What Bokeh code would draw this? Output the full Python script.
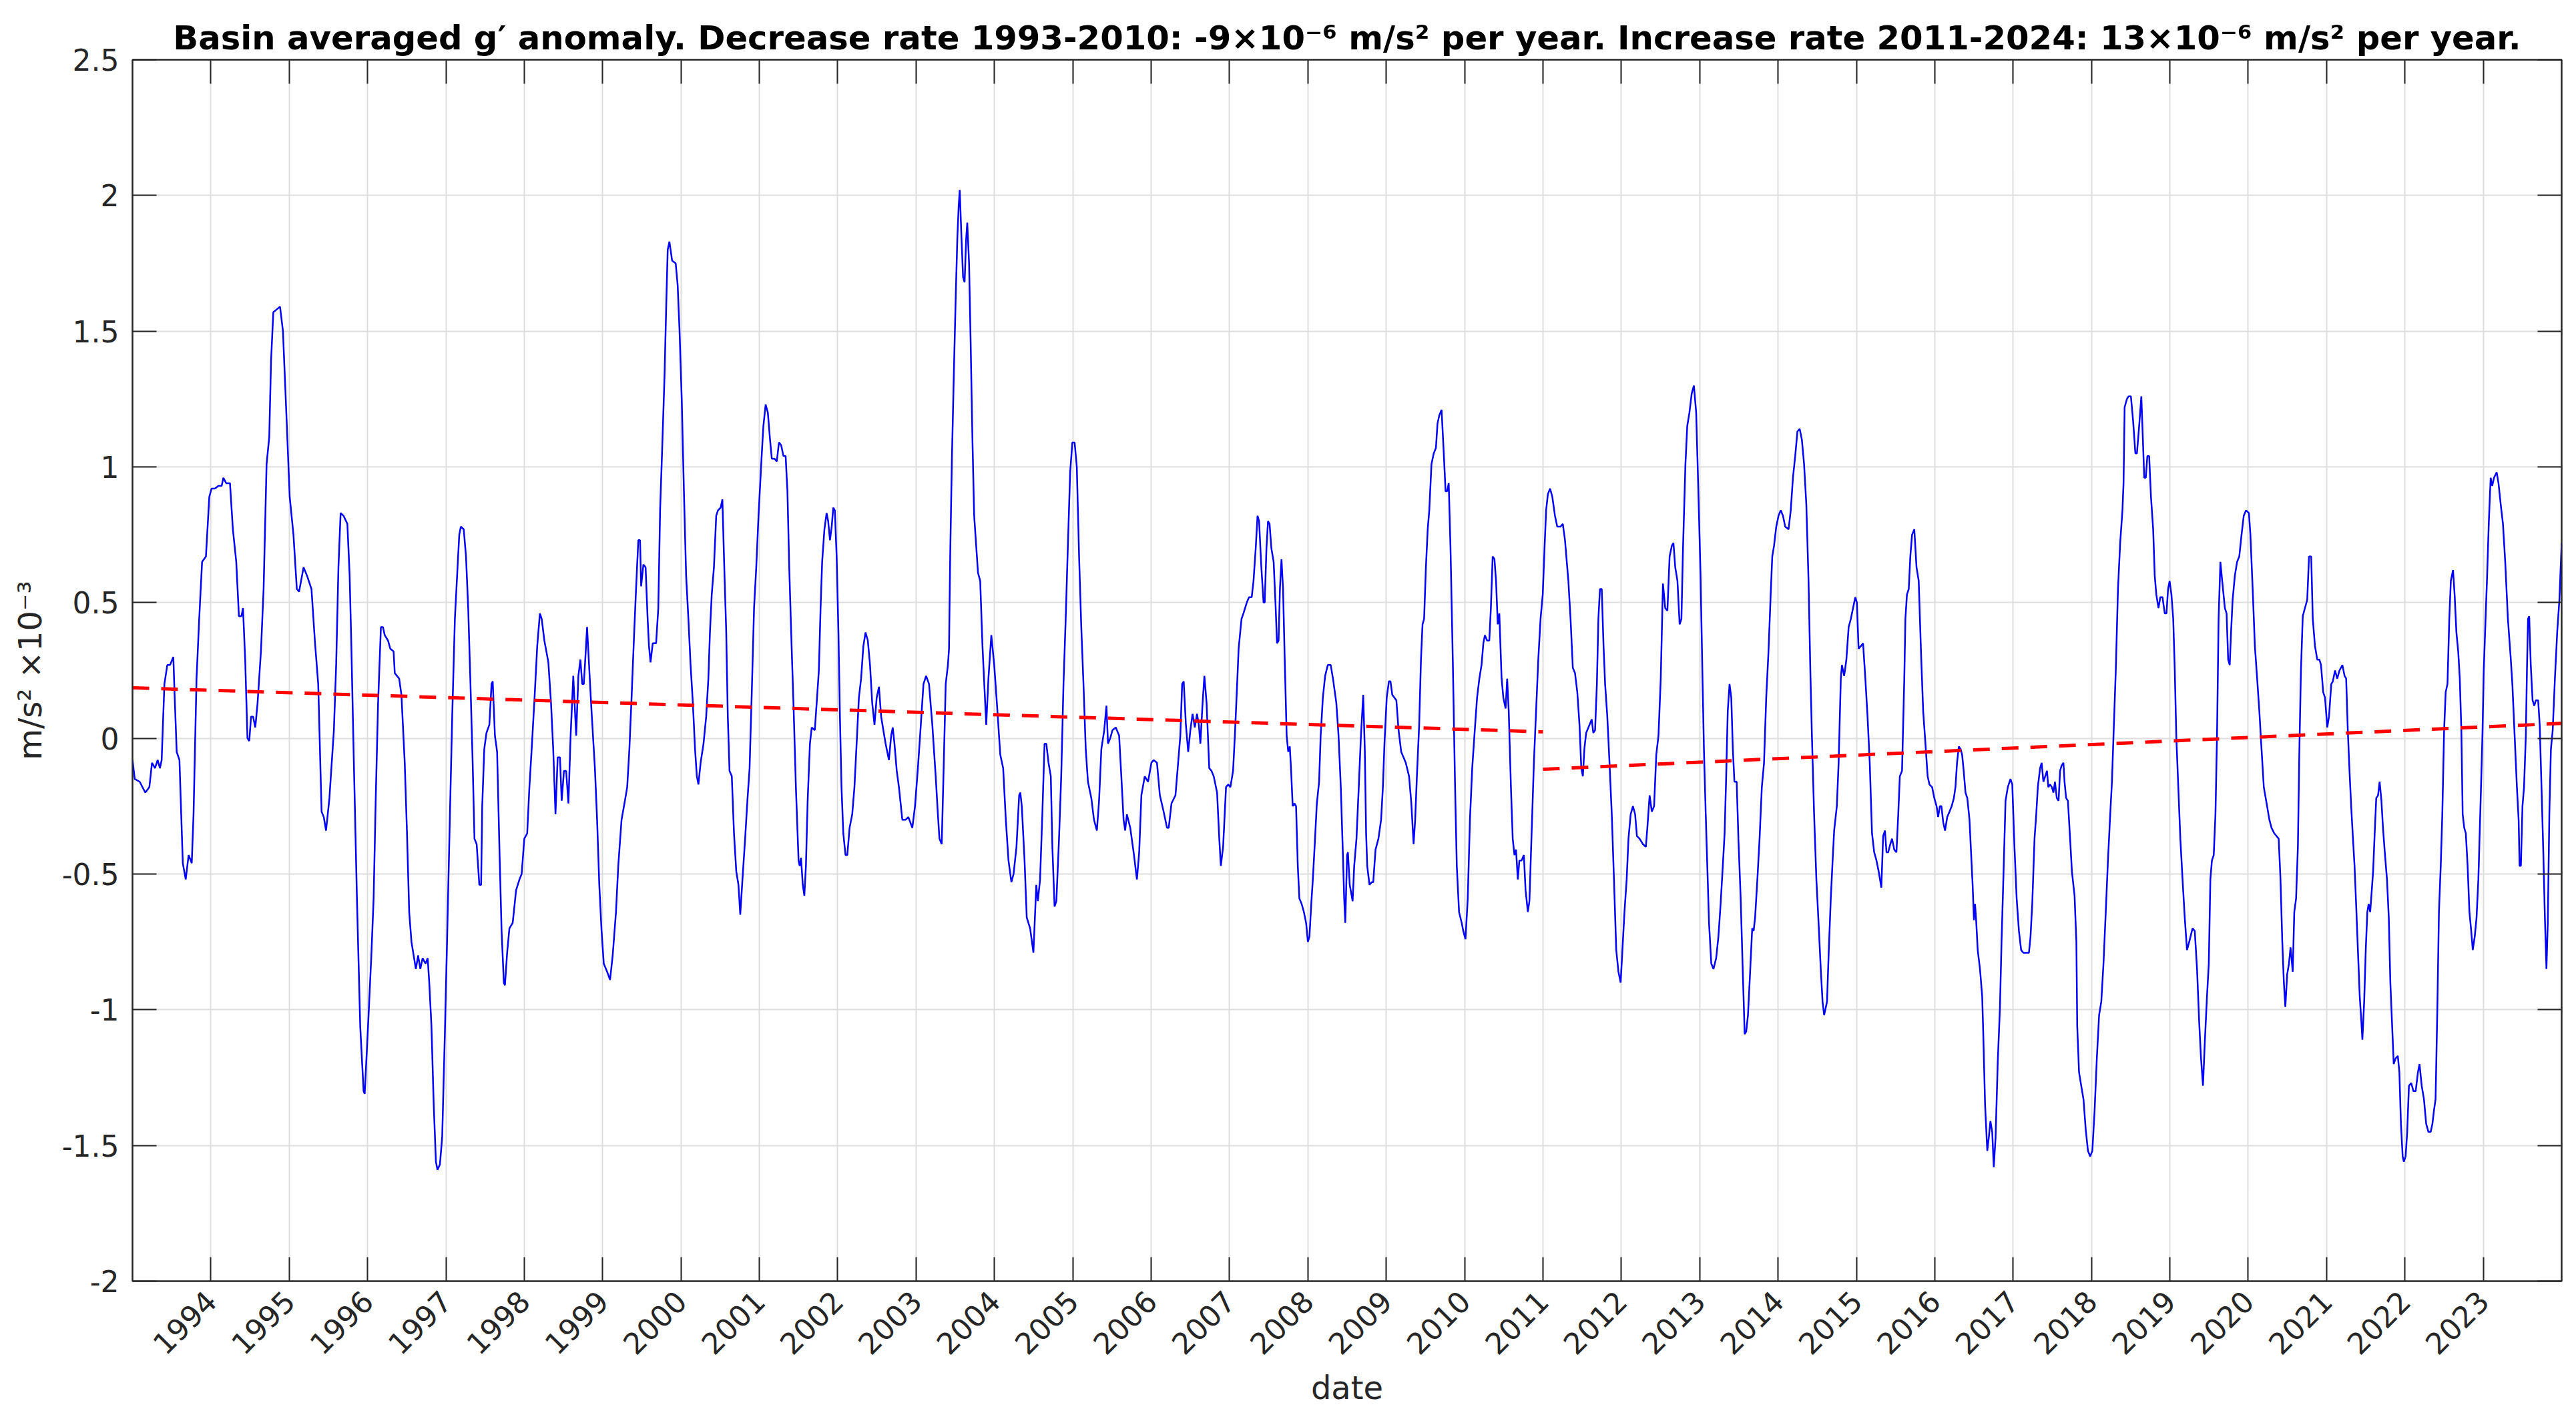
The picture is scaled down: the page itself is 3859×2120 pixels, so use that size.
import math
from bokeh.plotting import figure
from bokeh.models import LinearAxis, FixedTicker, Range1d, CustomJSTickFormatter
from bokeh.embed import file_html
from bokeh.resources import INLINE

# ---------------- data (decimal year, basin averaged g' anomaly in 1e-3 m/s^2) ----------------
t_1993 = [1993.000, 1993.029, 1993.092, 1993.163, 1993.215, 1993.249, 1993.287, 1993.321, 1993.350, 1993.372,
          1993.407, 1993.444, 1993.479, 1993.521, 1993.536, 1993.564, 1993.599, 1993.642, 1993.679, 1993.716,
          1993.756, 1993.779, 1993.817, 1993.851, 1993.888, 1993.937, 1993.980, 1994.009, 1994.052, 1994.095,
          1994.138, 1994.160, 1994.195, 1994.244, 1994.281, 1994.324, 1994.358, 1994.390, 1994.410, 1994.438,
          1994.467, 1994.490, 1994.513, 1994.539, 1994.567, 1994.596, 1994.639, 1994.673, 1994.711, 1994.745,
          1994.768, 1994.797, 1994.840, 1994.883, 1994.920, 1994.960, 1995.006, 1995.054, 1995.097, 1995.126,
          1995.183, 1995.226, 1995.284, 1995.327, 1995.370, 1995.413, 1995.441, 1995.470, 1995.513, 1995.570,
          1995.599, 1995.628, 1995.656, 1995.693, 1995.742, 1995.771]
g_1993 = [-0.08, -0.15, -0.16, -0.20, -0.18, -0.09, -0.11, -0.08, -0.11, -0.08,
          0.20, 0.27, 0.27, 0.30, 0.17, -0.05, -0.08, -0.46, -0.52, -0.43,
          -0.46, -0.28, 0.22, 0.44, 0.65, 0.67, 0.89, 0.92, 0.92, 0.93,
          0.93, 0.96, 0.94, 0.94, 0.77, 0.65, 0.45, 0.45, 0.48, 0.29,
          0.00, -0.01, 0.08, 0.08, 0.04, 0.13, 0.32, 0.55, 1.01, 1.11,
          1.39, 1.57, 1.58, 1.59, 1.50, 1.22, 0.89, 0.75, 0.55, 0.54,
          0.63, 0.60, 0.55, 0.36, 0.20, -0.27, -0.29, -0.34, -0.22, 0.03,
          0.27, 0.63, 0.83, 0.82, 0.79, 0.60]

t_1996 = [1995.793, 1995.821, 1995.864, 1995.906, 1995.949, 1995.963, 1996.006, 1996.048, 1996.077, 1996.105,
          1996.134, 1996.170, 1996.196, 1996.219, 1996.261, 1996.290, 1996.332, 1996.347, 1996.375, 1996.403,
          1996.432, 1996.474, 1996.503, 1996.531, 1996.560, 1996.588, 1996.616, 1996.645, 1996.673, 1996.702,
          1996.739, 1996.767, 1996.787, 1996.815, 1996.844, 1996.872, 1996.892, 1996.923, 1996.952, 1996.986,
          1997.014, 1997.051, 1997.080, 1997.114, 1997.148, 1997.170, 1997.190, 1997.227, 1997.256, 1997.284,
          1997.313, 1997.341, 1997.364, 1997.392, 1997.426, 1997.449, 1997.463, 1997.489, 1997.517, 1997.554,
          1997.582, 1997.597, 1997.625, 1997.653, 1997.682, 1997.710, 1997.739, 1997.753, 1997.781, 1997.810,
          1997.852, 1997.895, 1997.938, 1997.966, 1998.000, 1998.037, 1998.065, 1998.094, 1998.131, 1998.165,
          1998.199, 1998.222, 1998.256, 1998.307, 1998.341, 1998.369, 1998.398, 1998.426, 1998.455, 1998.477,
          1998.506, 1998.534, 1998.563, 1998.591, 1998.625, 1998.662, 1998.690]
g_1996 = [0.34, -0.04, -0.59, -1.06, -1.30, -1.31, -1.06, -0.80, -0.59, -0.21,
          0.13, 0.41, 0.41, 0.38, 0.36, 0.33, 0.32, 0.24, 0.23, 0.22,
          0.16, -0.09, -0.35, -0.64, -0.75, -0.80, -0.85, -0.80, -0.85, -0.81,
          -0.83, -0.81, -0.90, -1.06, -1.35, -1.56, -1.59, -1.57, -1.47, -1.09,
          -0.75, -0.28, 0.08, 0.44, 0.63, 0.75, 0.78, 0.77, 0.67, 0.48,
          0.20, -0.09, -0.37, -0.39, -0.54, -0.54, -0.25, -0.04, 0.02, 0.05,
          0.20, 0.21, 0.01, -0.05, -0.40, -0.71, -0.90, -0.91, -0.79, -0.70,
          -0.68, -0.56, -0.52, -0.50, -0.37, -0.35, -0.18, -0.04, 0.15, 0.34,
          0.46, 0.44, 0.36, 0.28, 0.13, -0.04, -0.28, -0.07, -0.07, -0.23,
          -0.12, -0.12, -0.24, 0.01, 0.23, 0.01, 0.23]

t_1999 = [1998.716, 1998.739, 1998.759, 1998.778, 1998.801, 1998.830, 1998.858, 1998.901, 1998.929, 1998.957,
          1998.986, 1999.014, 1999.057, 1999.094, 1999.128, 1999.170, 1999.199, 1999.241, 1999.284, 1999.313,
          1999.341, 1999.369, 1999.398, 1999.426, 1999.455, 1999.477, 1999.491, 1999.520, 1999.548, 1999.574,
          1999.591, 1999.611, 1999.639, 1999.682, 1999.710, 1999.733, 1999.761, 1999.790, 1999.810, 1999.830,
          1999.852, 1999.886, 1999.932, 1999.957, 1999.980, 2000.009, 2000.037, 2000.065, 2000.094, 2000.122,
          2000.151, 2000.179, 2000.202, 2000.222, 2000.250, 2000.287, 2000.321, 2000.349, 2000.369, 2000.392,
          2000.420, 2000.449, 2000.472, 2000.506, 2000.528, 2000.548, 2000.577, 2000.597, 2000.619, 2000.648,
          2000.676, 2000.705, 2000.733, 2000.756, 2000.784, 2000.818, 2000.847, 2000.875, 2000.903, 2000.932,
          2000.960, 2000.989, 2001.011, 2001.031, 2001.051, 2001.080, 2001.108, 2001.136, 2001.159, 2001.193,
          2001.222, 2001.250, 2001.278, 2001.307, 2001.335, 2001.358, 2001.381, 2001.409, 2001.438, 2001.466,
          2001.500, 2001.514]
g_1999 = [0.29, 0.20, 0.20, 0.29, 0.41, 0.25, 0.10, -0.11, -0.30, -0.54,
          -0.71, -0.83, -0.86, -0.89, -0.80, -0.64, -0.47, -0.30, -0.23, -0.18,
          -0.04, 0.15, 0.36, 0.55, 0.73, 0.73, 0.56, 0.64, 0.63, 0.44,
          0.34, 0.28, 0.35, 0.35, 0.48, 0.84, 1.08, 1.34, 1.58, 1.80,
          1.83, 1.76, 1.75, 1.67, 1.51, 1.25, 0.91, 0.60, 0.44, 0.27,
          0.13, -0.04, -0.14, -0.17, -0.09, -0.02, 0.08, 0.22, 0.39, 0.53,
          0.63, 0.82, 0.84, 0.85, 0.88, 0.67, 0.39, 0.08, -0.12, -0.14,
          -0.35, -0.49, -0.54, -0.65, -0.52, -0.37, -0.23, -0.11, 0.17, 0.48,
          0.63, 0.82, 0.94, 1.05, 1.15, 1.23, 1.20, 1.10, 1.03, 1.03,
          1.02, 1.09, 1.08, 1.04, 1.04, 0.91, 0.63, 0.36, 0.10, -0.18,
          -0.45, -0.47]

t_2002 = [2001.531, 2001.554, 2001.574, 2001.594, 2001.616, 2001.645, 2001.668, 2001.707, 2001.736, 2001.759,
          2001.781, 2001.801, 2001.830, 2001.858, 2001.878, 2001.901, 2001.923, 2001.943, 2001.963, 2001.986,
          2002.009, 2002.028, 2002.048, 2002.071, 2002.099, 2002.122, 2002.151, 2002.185, 2002.213, 2002.241,
          2002.270, 2002.298, 2002.327, 2002.355, 2002.384, 2002.412, 2002.440, 2002.469, 2002.497, 2002.526,
          2002.554, 2002.582, 2002.611, 2002.653, 2002.682, 2002.702, 2002.724, 2002.753, 2002.781, 2002.824,
          2002.866, 2002.901, 2002.952, 2002.986, 2003.023, 2003.051, 2003.094, 2003.128, 2003.165, 2003.207,
          2003.250, 2003.278, 2003.298, 2003.327, 2003.349, 2003.378, 2003.406, 2003.420, 2003.435, 2003.457,
          2003.483, 2003.506, 2003.526, 2003.543, 2003.557, 2003.577, 2003.599, 2003.619, 2003.639, 2003.653,
          2003.676, 2003.696, 2003.719, 2003.741, 2003.776, 2003.790, 2003.818, 2003.847, 2003.875, 2003.895,
          2003.923, 2003.960, 2003.997, 2004.031, 2004.074, 2004.111, 2004.145, 2004.179, 2004.216, 2004.244,
          2004.281, 2004.315, 2004.330]
g_2002 = [-0.44, -0.54, -0.58, -0.47, -0.23, -0.02, 0.04, 0.03, 0.15, 0.25,
          0.48, 0.65, 0.77, 0.83, 0.80, 0.73, 0.78, 0.85, 0.84, 0.67,
          0.39, 0.08, -0.18, -0.35, -0.43, -0.43, -0.33, -0.28, -0.18, -0.02,
          0.15, 0.22, 0.34, 0.39, 0.36, 0.27, 0.13, 0.05, 0.15, 0.19,
          0.08, 0.03, -0.02, -0.08, 0.01, 0.04, -0.02, -0.12, -0.18, -0.30,
          -0.30, -0.29, -0.33, -0.25, -0.11, 0.01, 0.20, 0.23, 0.20, 0.05,
          -0.14, -0.28, -0.37, -0.39, -0.14, 0.20, 0.27, 0.33, 0.67, 1.03,
          1.36, 1.63, 1.84, 1.96, 2.02, 1.86, 1.70, 1.68, 1.84, 1.90,
          1.75, 1.46, 1.10, 0.82, 0.67, 0.61, 0.58, 0.34, 0.17, 0.05,
          0.22, 0.38, 0.27, 0.13, -0.06, -0.11, -0.30, -0.45, -0.53, -0.50,
          -0.40, -0.21, -0.20]

t_2005 = [2004.349, 2004.384, 2004.412, 2004.455, 2004.497, 2004.534, 2004.554, 2004.582, 2004.611, 2004.639,
          2004.662, 2004.690, 2004.719, 2004.739, 2004.767, 2004.790, 2004.824, 2004.852, 2004.881, 2004.909,
          2004.938, 2004.966, 2004.994, 2005.023, 2005.051, 2005.080, 2005.108, 2005.136, 2005.165, 2005.193,
          2005.236, 2005.270, 2005.307, 2005.335, 2005.364, 2005.401, 2005.429, 2005.449, 2005.477, 2005.506,
          2005.548, 2005.591, 2005.619, 2005.648, 2005.668, 2005.690, 2005.733, 2005.776, 2005.818, 2005.847,
          2005.875, 2005.918, 2005.960, 2006.003, 2006.031, 2006.074, 2006.111, 2006.159, 2006.202, 2006.224,
          2006.259, 2006.310, 2006.344, 2006.372, 2006.395, 2006.415, 2006.443, 2006.472, 2006.500, 2006.528,
          2006.557, 2006.585, 2006.608, 2006.628, 2006.656, 2006.679, 2006.707, 2006.741, 2006.770, 2006.798,
          2006.841, 2006.869, 2006.889, 2006.918, 2006.955, 2006.983, 2007.011, 2007.045, 2007.068, 2007.097,
          2007.116, 2007.153]
g_2005 = [-0.25, -0.45, -0.66, -0.70, -0.79, -0.54, -0.60, -0.52, -0.28, -0.02,
          -0.02, -0.09, -0.14, -0.40, -0.62, -0.60, -0.37, -0.14, 0.20, 0.44,
          0.72, 0.98, 1.09, 1.09, 1.00, 0.67, 0.41, 0.20, -0.04, -0.16,
          -0.22, -0.30, -0.34, -0.23, -0.04, 0.03, 0.12, -0.02, 0.00, 0.03,
          0.04, 0.01, -0.14, -0.30, -0.34, -0.28, -0.33, -0.42, -0.52, -0.42,
          -0.21, -0.14, -0.16, -0.09, -0.08, -0.09, -0.21, -0.27, -0.33, -0.33,
          -0.24, -0.21, -0.09, 0.01, 0.20, 0.21, 0.05, -0.05, 0.03, 0.09,
          0.04, 0.09, 0.05, -0.02, 0.13, 0.23, 0.13, -0.11, -0.12, -0.14,
          -0.20, -0.37, -0.47, -0.40, -0.18, -0.17, -0.18, -0.12, 0.01, 0.20,
          0.33, 0.44]

t_2008 = [2007.177, 2007.220, 2007.249, 2007.283, 2007.306, 2007.334, 2007.357, 2007.377, 2007.406, 2007.434,
          2007.449, 2007.471, 2007.491, 2007.511, 2007.534, 2007.563, 2007.586, 2007.606, 2007.626, 2007.643,
          2007.663, 2007.683, 2007.706, 2007.729, 2007.749, 2007.769, 2007.786, 2007.806, 2007.829, 2007.849,
          2007.871, 2007.891, 2007.920, 2007.949, 2007.977, 2008.000, 2008.020, 2008.043, 2008.063, 2008.091,
          2008.114, 2008.143, 2008.163, 2008.191, 2008.220, 2008.254, 2008.291, 2008.320, 2008.363, 2008.391,
          2008.420, 2008.449, 2008.463, 2008.477, 2008.500, 2008.511, 2008.534, 2008.571, 2008.591, 2008.620,
          2008.649, 2008.677, 2008.706, 2008.726, 2008.743, 2008.757, 2008.786, 2008.814, 2008.834, 2008.863,
          2008.900, 2008.934, 2008.957, 2008.977, 2009.006, 2009.034, 2009.054, 2009.077, 2009.129, 2009.157,
          2009.191, 2009.249, 2009.291, 2009.320, 2009.349, 2009.369, 2009.391, 2009.420, 2009.443, 2009.463,
          2009.483, 2009.506, 2009.529, 2009.549, 2009.577, 2009.606, 2009.634, 2009.654, 2009.677, 2009.706,
          2009.734, 2009.757, 2009.777, 2009.797, 2009.820, 2009.849, 2009.877, 2009.900, 2009.929, 2009.963]
g_2008 = [0.46, 0.50, 0.52, 0.52, 0.58, 0.70, 0.82, 0.80, 0.63, 0.50,
          0.50, 0.70, 0.80, 0.79, 0.70, 0.65, 0.50, 0.35, 0.36, 0.55,
          0.66, 0.55, 0.27, 0.01, -0.05, -0.03, -0.12, -0.25, -0.24, -0.25,
          -0.47, -0.59, -0.61, -0.64, -0.68, -0.75, -0.73, -0.61, -0.52, -0.37,
          -0.24, -0.16, 0.01, 0.15, 0.23, 0.27, 0.27, 0.22, 0.13, 0.01,
          -0.18, -0.45, -0.59, -0.68, -0.43, -0.42, -0.54, -0.60, -0.47, -0.37,
          -0.18, 0.01, 0.16, -0.04, -0.35, -0.47, -0.54, -0.53, -0.53, -0.41,
          -0.37, -0.30, -0.18, -0.02, 0.15, 0.21, 0.21, 0.16, 0.14, 0.03,
          -0.05, -0.09, -0.14, -0.24, -0.39, -0.30, -0.14, 0.05, 0.29, 0.42,
          0.44, 0.63, 0.77, 0.84, 1.01, 1.05, 1.07, 1.16, 1.19, 1.21,
          1.05, 0.91, 0.91, 0.94, 0.70, 0.29, -0.16, -0.47, -0.64, -0.68]

t_2011 = [2009.983, 2010.011, 2010.040, 2010.068, 2010.097, 2010.125, 2010.159, 2010.188, 2010.216, 2010.239,
          2010.259, 2010.287, 2010.315, 2010.335, 2010.358, 2010.381, 2010.401, 2010.423, 2010.443, 2010.472,
          2010.494, 2010.523, 2010.543, 2010.563, 2010.591, 2010.614, 2010.636, 2010.656, 2010.679, 2010.699,
          2010.727, 2010.756, 2010.778, 2010.807, 2010.827, 2010.855, 2010.884, 2010.912, 2010.940, 2010.969,
          2010.997, 2011.020, 2011.040, 2011.063, 2011.091, 2011.119, 2011.153, 2011.182, 2011.224, 2011.253,
          2011.281, 2011.324, 2011.352, 2011.381, 2011.409, 2011.438, 2011.466, 2011.489, 2011.509, 2011.528,
          2011.551, 2011.580, 2011.622, 2011.642, 2011.665, 2011.688, 2011.707, 2011.727, 2011.750, 2011.773,
          2011.793, 2011.821, 2011.849, 2011.878, 2011.906, 2011.935, 2011.963, 2011.991, 2012.014, 2012.040,
          2012.068, 2012.091, 2012.119, 2012.148, 2012.176, 2012.199, 2012.233, 2012.276, 2012.313, 2012.332,
          2012.361, 2012.389, 2012.418, 2012.446, 2012.474, 2012.503, 2012.531, 2012.560, 2012.588, 2012.616,
          2012.645, 2012.665, 2012.688, 2012.716, 2012.744, 2012.767, 2012.787]
g_2011 = [-0.71, -0.74, -0.59, -0.30, -0.11, 0.01, 0.15, 0.22, 0.27, 0.35,
          0.38, 0.36, 0.36, 0.48, 0.67, 0.66, 0.58, 0.42, 0.46, 0.22,
          0.15, 0.11, 0.22, 0.10, -0.18, -0.37, -0.43, -0.41, -0.52, -0.45,
          -0.45, -0.43, -0.56, -0.64, -0.60, -0.35, -0.09, 0.10, 0.29, 0.44,
          0.53, 0.70, 0.84, 0.90, 0.92, 0.89, 0.82, 0.78, 0.78, 0.79,
          0.73, 0.58, 0.44, 0.26, 0.24, 0.17, 0.05, -0.11, -0.14, -0.04,
          0.02, 0.04, 0.07, 0.02, 0.03, 0.20, 0.44, 0.55, 0.55, 0.34,
          0.20, 0.08, -0.09, -0.28, -0.52, -0.78, -0.86, -0.90, -0.78, -0.64,
          -0.52, -0.37, -0.28, -0.25, -0.28, -0.36, -0.37, -0.39, -0.40, -0.33,
          -0.21, -0.27, -0.25, -0.06, 0.01, 0.22, 0.57, 0.48, 0.47, 0.67,
          0.71, 0.72, 0.63, 0.58, 0.42, 0.44, 0.70]

t_2014 = [2012.818, 2012.841, 2012.869, 2012.898, 2012.926, 2012.955, 2012.983, 2013.011, 2013.034, 2013.054,
          2013.077, 2013.097, 2013.119, 2013.148, 2013.176, 2013.210, 2013.239, 2013.267, 2013.295, 2013.318,
          2013.338, 2013.358, 2013.381, 2013.403, 2013.423, 2013.443, 2013.472, 2013.494, 2013.523, 2013.551,
          2013.574, 2013.594, 2013.616, 2013.642, 2013.670, 2013.688, 2013.707, 2013.736, 2013.764, 2013.793,
          2013.821, 2013.849, 2013.878, 2013.906, 2013.926, 2013.949, 2013.977, 2014.006, 2014.034, 2014.063,
          2014.091, 2014.134, 2014.162, 2014.190, 2014.219, 2014.247, 2014.276, 2014.304, 2014.332, 2014.361,
          2014.389, 2014.412, 2014.432, 2014.460, 2014.489, 2014.517, 2014.545, 2014.568, 2014.588, 2014.625,
          2014.645, 2014.673, 2014.693, 2014.716, 2014.750, 2014.773, 2014.801, 2014.815, 2014.844, 2014.872,
          2014.901, 2014.929, 2014.957, 2014.986, 2015.006, 2015.028, 2015.057, 2015.085, 2015.114, 2015.142,
          2015.170, 2015.199, 2015.227, 2015.256, 2015.284, 2015.318, 2015.341, 2015.364, 2015.384, 2015.406,
          2015.432, 2015.455, 2015.483, 2015.511, 2015.534, 2015.554, 2015.582, 2015.611]
g_2014 = [1.01, 1.15, 1.20, 1.27, 1.30, 1.20, 0.91, 0.60, 0.25, -0.04,
          -0.28, -0.47, -0.68, -0.83, -0.85, -0.81, -0.73, -0.61, -0.47, -0.35,
          -0.14, 0.10, 0.20, 0.15, -0.04, -0.16, -0.16, -0.37, -0.59, -0.87,
          -1.09, -1.08, -1.02, -0.87, -0.70, -0.71, -0.66, -0.52, -0.37, -0.18,
          -0.09, 0.15, 0.32, 0.53, 0.67, 0.71, 0.78, 0.82, 0.84, 0.82,
          0.78, 0.77, 0.84, 0.96, 1.04, 1.13, 1.14, 1.10, 1.01, 0.86,
          0.58, 0.25, 0.01, -0.28, -0.52, -0.68, -0.85, -0.97, -1.02, -0.97,
          -0.80, -0.59, -0.47, -0.34, -0.25, -0.09, 0.22, 0.27, 0.23, 0.29,
          0.41, 0.44, 0.48, 0.52, 0.50, 0.33, 0.34, 0.35, 0.22, 0.08,
          -0.09, -0.35, -0.42, -0.45, -0.49, -0.55, -0.36, -0.34, -0.42, -0.42,
          -0.39, -0.37, -0.41, -0.42, -0.28, -0.14, -0.12, 0.22]

t_2017 = [2015.625, 2015.645, 2015.668, 2015.688, 2015.710, 2015.739, 2015.767, 2015.795, 2015.824, 2015.852,
          2015.881, 2015.909, 2015.932, 2015.966, 2015.994, 2016.023, 2016.043, 2016.065, 2016.085, 2016.108,
          2016.131, 2016.159, 2016.188, 2016.216, 2016.244, 2016.264, 2016.284, 2016.307, 2016.330, 2016.349,
          2016.369, 2016.392, 2016.415, 2016.443, 2016.463, 2016.483, 2016.500, 2016.514, 2016.528, 2016.548,
          2016.577, 2016.605, 2016.619, 2016.642, 2016.670, 2016.690, 2016.710, 2016.733, 2016.753, 2016.776,
          2016.804, 2016.832, 2016.852, 2016.875, 2016.903, 2016.932, 2016.966, 2016.989, 2017.017, 2017.045,
          2017.074, 2017.102, 2017.131, 2017.165, 2017.202, 2017.222, 2017.244, 2017.273, 2017.295, 2017.315,
          2017.344, 2017.364, 2017.386, 2017.409, 2017.432, 2017.449, 2017.472, 2017.494, 2017.514, 2017.534,
          2017.557, 2017.580, 2017.599, 2017.619, 2017.642, 2017.656, 2017.676, 2017.699, 2017.727, 2017.750,
          2017.784, 2017.807, 2017.818, 2017.841, 2017.869, 2017.898, 2017.926, 2017.955, 2017.983, 2018.011,
          2018.040, 2018.068, 2018.097, 2018.125, 2018.153, 2018.182, 2018.210, 2018.239, 2018.261, 2018.281,
          2018.310, 2018.338, 2018.366, 2018.395, 2018.409, 2018.423]
g_2017 = [0.44, 0.53, 0.55, 0.67, 0.75, 0.77, 0.63, 0.58, 0.32, 0.10,
          -0.02, -0.14, -0.17, -0.18, -0.22, -0.25, -0.29, -0.25, -0.25, -0.31,
          -0.34, -0.29, -0.27, -0.25, -0.22, -0.18, -0.09, -0.03, -0.04, -0.06,
          -0.12, -0.20, -0.22, -0.30, -0.42, -0.54, -0.67, -0.61, -0.67, -0.78,
          -0.85, -0.95, -1.09, -1.35, -1.52, -1.47, -1.41, -1.45, -1.58, -1.47,
          -1.19, -0.99, -0.75, -0.52, -0.23, -0.18, -0.15, -0.17, -0.40, -0.59,
          -0.71, -0.78, -0.79, -0.79, -0.79, -0.73, -0.61, -0.37, -0.28, -0.18,
          -0.11, -0.09, -0.16, -0.14, -0.12, -0.18, -0.17, -0.18, -0.20, -0.16,
          -0.22, -0.23, -0.12, -0.10, -0.09, -0.16, -0.22, -0.23, -0.37, -0.49,
          -0.58, -0.75, -1.06, -1.23, -1.28, -1.33, -1.44, -1.52, -1.54, -1.52,
          -1.37, -1.18, -1.02, -0.97, -0.83, -0.64, -0.45, -0.28, -0.16, 0.01,
          0.25, 0.55, 0.72, 0.84, 0.94, 1.22]

t_2020 = [2018.452, 2018.474, 2018.503, 2018.531, 2018.560, 2018.580, 2018.608, 2018.636, 2018.656, 2018.673,
          2018.693, 2018.713, 2018.736, 2018.759, 2018.787, 2018.807, 2018.827, 2018.855, 2018.878, 2018.906,
          2018.935, 2018.957, 2018.977, 2018.997, 2019.020, 2019.043, 2019.063, 2019.082, 2019.105, 2019.134,
          2019.162, 2019.190, 2019.219, 2019.247, 2019.290, 2019.318, 2019.347, 2019.375, 2019.398, 2019.423,
          2019.446, 2019.474, 2019.497, 2019.517, 2019.537, 2019.560, 2019.582, 2019.602, 2019.622, 2019.645,
          2019.668, 2019.702, 2019.724, 2019.744, 2019.764, 2019.781, 2019.801, 2019.830, 2019.858, 2019.886,
          2019.915, 2019.943, 2019.972, 2020.009, 2020.028, 2020.057, 2020.085, 2020.114, 2020.142, 2020.170,
          2020.199, 2020.241, 2020.270, 2020.298, 2020.332, 2020.361, 2020.389, 2020.412, 2020.435, 2020.455,
          2020.474, 2020.497, 2020.520, 2020.540, 2020.568, 2020.588, 2020.611, 2020.634, 2020.653, 2020.673,
          2020.696, 2020.724, 2020.753, 2020.776, 2020.804, 2020.824, 2020.852, 2020.881, 2020.909, 2020.929,
          2020.957, 2020.980, 2021.009, 2021.031, 2021.060, 2021.080, 2021.108, 2021.136, 2021.165, 2021.202,
          2021.230, 2021.250]
g_2020 = [1.25, 1.26, 1.26, 1.17, 1.05, 1.05, 1.15, 1.26, 1.10, 0.96,
          0.96, 1.04, 1.04, 0.89, 0.77, 0.60, 0.53, 0.48, 0.52, 0.52,
          0.46, 0.46, 0.55, 0.58, 0.53, 0.44, 0.25, 0.01, -0.16, -0.37,
          -0.52, -0.66, -0.78, -0.75, -0.70, -0.71, -0.85, -1.05, -1.18, -1.28,
          -1.12, -0.95, -0.83, -0.52, -0.45, -0.43, -0.28, 0.01, 0.44, 0.65,
          0.58, 0.48, 0.46, 0.29, 0.27, 0.39, 0.51, 0.60, 0.65, 0.67,
          0.75, 0.82, 0.84, 0.83, 0.75, 0.55, 0.34, 0.22, 0.10, -0.04,
          -0.18, -0.25, -0.30, -0.33, -0.35, -0.36, -0.37, -0.52, -0.75, -0.90,
          -0.99, -0.87, -0.83, -0.77, -0.86, -0.64, -0.59, -0.40, -0.04, 0.25,
          0.45, 0.48, 0.51, 0.67, 0.67, 0.44, 0.34, 0.29, 0.29, 0.27,
          0.17, 0.15, 0.04, 0.08, 0.20, 0.21, 0.25, 0.22, 0.25, 0.27,
          0.23, 0.22]

t_2023 = [2021.271, 2021.291, 2021.314, 2021.337, 2021.357, 2021.377, 2021.400, 2021.423, 2021.443, 2021.457,
          2021.480, 2021.500, 2021.520, 2021.537, 2021.557, 2021.577, 2021.594, 2021.614, 2021.634, 2021.657,
          2021.677, 2021.700, 2021.720, 2021.743, 2021.771, 2021.794, 2021.814, 2021.834, 2021.857, 2021.880,
          2021.909, 2021.929, 2021.949, 2021.971, 2021.986, 2022.009, 2022.029, 2022.051, 2022.080, 2022.109,
          2022.137, 2022.166, 2022.186, 2022.214, 2022.243, 2022.271, 2022.300, 2022.329, 2022.351, 2022.371,
          2022.391, 2022.414, 2022.434, 2022.457, 2022.477, 2022.500, 2022.520, 2022.543, 2022.566, 2022.586,
          2022.614, 2022.634, 2022.657, 2022.680, 2022.700, 2022.720, 2022.737, 2022.757, 2022.777, 2022.800,
          2022.823, 2022.843, 2022.866, 2022.891, 2022.914, 2022.937, 2022.966, 2022.989, 2023.006, 2023.029,
          2023.049, 2023.071, 2023.094, 2023.114, 2023.137, 2023.171, 2023.194, 2023.223, 2023.251, 2023.280,
          2023.314, 2023.349, 2023.371, 2023.400, 2023.429, 2023.451, 2023.463, 2023.480, 2023.500, 2023.520,
          2023.543, 2023.557, 2023.571, 2023.586, 2023.606, 2023.629, 2023.651, 2023.671, 2023.700, 2023.720,
          2023.743, 2023.766, 2023.786, 2023.806, 2023.823, 2023.843, 2023.863, 2023.886, 2023.914, 2023.943,
          2023.971, 2024.000]
g_2023 = [0.03, -0.11, -0.25, -0.37, -0.47, -0.61, -0.78, -0.95, -1.04, -1.11,
          -0.97, -0.78, -0.64, -0.61, -0.64, -0.56, -0.49, -0.35, -0.22, -0.21,
          -0.16, -0.23, -0.33, -0.42, -0.52, -0.66, -0.90, -1.04, -1.20, -1.18,
          -1.17, -1.23, -1.42, -1.54, -1.56, -1.54, -1.45, -1.28, -1.27, -1.30,
          -1.30, -1.23, -1.20, -1.28, -1.33, -1.42, -1.45, -1.45, -1.42, -1.37,
          -1.33, -0.99, -0.64, -0.47, -0.28, 0.03, 0.17, 0.20, 0.44, 0.58,
          0.62, 0.53, 0.39, 0.32, 0.22, 0.03, -0.28, -0.33, -0.35, -0.47,
          -0.64, -0.70, -0.78, -0.73, -0.66, -0.52, -0.23, 0.01, 0.25, 0.44,
          0.60, 0.80, 0.96, 0.93, 0.96, 0.98, 0.94, 0.86, 0.79, 0.65,
          0.44, 0.30, 0.20, 0.01, -0.18, -0.30, -0.47, -0.47, -0.25, -0.18,
          0.01, 0.25, 0.44, 0.45, 0.27, 0.14, 0.12, 0.14, 0.14, 0.05,
          -0.18, -0.42, -0.66, -0.85, -0.68, -0.28, -0.04, 0.03, 0.22, 0.39,
          0.51, 0.72]

# linear trends (1e-3 m/s^2): -9e-6 per year (1993-2010), +13e-6 per year (2011-2024)
trend1_year = [1993.0, 2011.0]
trend1_value = [0.186, 0.024]
trend2_year = [2011.0, 2024.0]
trend2_value = [-0.114, 0.055]

year_ticks = list(range(1994, 2024))
value_ticks = [-2.0, -1.5, -1.0, -0.5, 0.0, 0.5, 1.0, 1.5, 2.0, 2.5]

TITLE = ("Basin averaged g\u2032 anomaly. Decrease rate 1993-2010: -9\u00d710\u207b\u2076 m/s\u00b2 per year. "
         "Increase rate 2011-2024: 13\u00d710\u207b\u2076 m/s\u00b2 per year.")
Y_LABEL = "m/s\u00b2 \u00d710\u207b\u00b3"
X_LABEL = "date"

# ---------------- assemble series ----------------
segments = [(t_1993, g_1993), (t_1996, g_1996), (t_1999, g_1999), (t_2002, g_2002),
            (t_2005, g_2005), (t_2008, g_2008), (t_2011, g_2011), (t_2014, g_2014),
            (t_2017, g_2017), (t_2020, g_2020), (t_2023, g_2023)]
years, values = [], []
for ts, gs in segments:
    for t, g in zip(ts, gs):
        years.append(t)
        values.append(g)

FONT = "DejaVu Sans"
INK = "#262626"
GRID = "#dedede"

p = figure(width=3851, height=2112,
           x_range=Range1d(1993, 2024), y_range=Range1d(-2, 2.5),
           output_backend="svg", toolbar_location=None,
           min_border_left=198, min_border_right=14, min_border_top=89, min_border_bottom=193,
           title=TITLE, x_axis_label=X_LABEL, y_axis_label=Y_LABEL)
p.background_fill_color = "white"
p.border_fill_color = "white"
p.outline_line_color = INK
p.outline_line_width = 2

p.title.align = "center"
p.title.text_font = FONT
p.title.text_font_size = "49.7px"
p.title.text_font_style = "bold"
p.title.text_color = "black"
p.title.standoff = 8

def style_axis(ax, ticks, label_size="44px"):
    ax.ticker = FixedTicker(ticks=ticks)
    ax.major_tick_in = 36
    ax.major_tick_out = 0
    ax.minor_tick_line_color = None
    ax.axis_line_color = INK
    ax.axis_line_width = 2
    ax.major_tick_line_color = INK
    ax.major_tick_line_width = 2
    ax.major_label_text_font = FONT
    ax.major_label_text_font_size = label_size
    ax.major_label_text_color = INK
    ax.axis_label_text_font = FONT
    ax.axis_label_text_font_size = "48px"
    ax.axis_label_text_font_style = "normal"
    ax.axis_label_text_color = INK

xa = p.xaxis[0]
style_axis(xa, year_ticks)
xa.formatter = CustomJSTickFormatter(code="return tick.toFixed(0);")
xa.major_label_orientation = math.pi / 4
xa.major_label_standoff = 22
xa.axis_label_standoff = 4

ya = p.yaxis[0]
style_axis(ya, value_ticks)
ya.formatter = CustomJSTickFormatter(code="return String(tick);")
ya.major_label_standoff = 20
ya.axis_label_standoff = 17

right = LinearAxis()
style_axis(right, value_ticks, label_size="0px")
right.formatter = CustomJSTickFormatter(code="return '';")
right.major_label_standoff = 0
p.add_layout(right, "right")

top = LinearAxis()
style_axis(top, year_ticks, label_size="0px")
top.formatter = CustomJSTickFormatter(code="return '';")
top.major_label_standoff = 0
p.add_layout(top, "above")

p.xgrid.grid_line_color = GRID
p.xgrid.grid_line_width = 2
p.ygrid.grid_line_color = GRID
p.ygrid.grid_line_width = 2

p.line(years, values, line_color="#0000ff", line_width=2.5)
p.line(trend1_year, trend1_value, line_color="#ff0000", line_width=5, line_dash="25 18")
p.line(trend2_year, trend2_value, line_color="#ff0000", line_width=5, line_dash="25 18")

open("out.html", "w").write(file_html(p, INLINE))
